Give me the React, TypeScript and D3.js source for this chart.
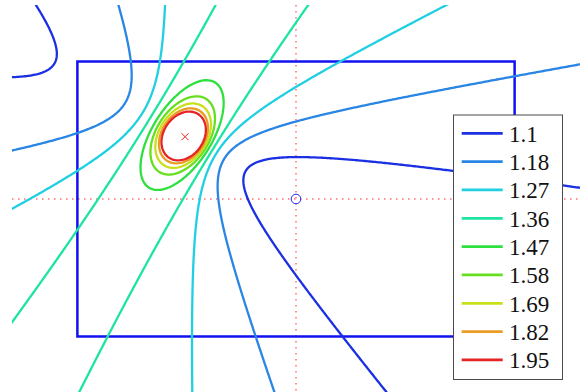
import React from 'react';
import * as d3 from 'd3';

// Contour levels of the ratio surface f = N(x, y) / D(x, y)
const LEVELS = [1.1, 1.18, 1.27, 1.36, 1.47, 1.58, 1.69, 1.82, 1.95];
const LEVEL_COLORS = ['#1b30e2', '#2a86e4', '#20cfe2', '#1ee4a2', '#2ee03e', '#66e01e', '#c8e01c', '#e89c24', '#e62424'];

// Numerator coefficients for [x^2, xy, y^2, x, y, 1]
const NUM_COEF = [1.2377, 0.08065, 1.40842, 1.94212, -1.19914, 1.06675];
// Denominator: quadratic form [xx, xy, yy] about a centre, plus a small floor
const DEN_QUAD = [1.09256, -0.1689, 1.10191];
const DEN_CENTER = [-0.80723, 0.45307];
const DEN_FLOOR = 0.0001;

// Plot window, box and reference marks (data units)
const X_DOMAIN = [-2.0655, 2.0655];
const Y_DOMAIN = [-1.411, 1.411];
const BOX_X = [-1.59, 1.59];
const BOX_Y = [-1, 1];
const ORIGIN = [0, 0];
const PEAK = [-0.807, 0.453];

const W = 582, H = 392;
const PLOT = { left: 12, right: 580, top: 5, bottom: 393 };

function surface(x: number, y: number) {
  const n = NUM_COEF[0] * x * x + NUM_COEF[1] * x * y + NUM_COEF[2] * y * y + NUM_COEF[3] * x + NUM_COEF[4] * y + NUM_COEF[5];
  const dx = x - DEN_CENTER[0], dy = y - DEN_CENTER[1];
  const d = DEN_QUAD[0] * dx * dx + DEN_QUAD[1] * dx * dy + DEN_QUAD[2] * dy * dy + DEN_FLOOR;
  return n / d;
}

export default function App() {
  const x = d3.scaleLinear().domain(X_DOMAIN).range([PLOT.left, PLOT.right]);
  const y = d3.scaleLinear().domain(Y_DOMAIN).range([PLOT.bottom, PLOT.top]);

  // sample the surface on a grid slightly larger than the plot window
  const step = 0.012;
  const gx0 = X_DOMAIN[0] - 0.06, gy1 = Y_DOMAIN[1] + 0.06;
  const nx = Math.ceil((X_DOMAIN[1] - X_DOMAIN[0] + 0.12) / step) + 1;
  const ny = Math.ceil((Y_DOMAIN[1] - Y_DOMAIN[0] + 0.12) / step) + 1;
  const values = new Array(nx * ny);
  for (let j = 0; j < ny; j++) {
    const yy = gy1 - j * step;
    for (let i = 0; i < nx; i++) values[j * nx + i] = surface(gx0 + i * step, yy);
  }
  const contours = d3.contours().size([nx, ny]).thresholds(LEVELS)(values);
  const path = d3.geoPath(
    d3.geoTransform({
      point(gx, gy) {
        (this as any).stream.point(x(gx0 + (gx - 0.5) * step), y(gy1 - (gy - 0.5) * step));
      },
    })
  );

  const px = x(PEAK[0]), py = y(PEAK[1]);
  const ox = x(ORIGIN[0]), oy = y(ORIGIN[1]);

  const legend = { x: 453.5, y: 115, w: 109, h: 264.5, row: 28.33 };

  return (
    <svg width={W} height={H} style={{ position: 'absolute', left: 0, top: 0, background: '#fff' }}>
      <defs>
        <clipPath id="plot-clip">
          <rect x={PLOT.left} y={PLOT.top} width={PLOT.right - PLOT.left} height={PLOT.bottom - PLOT.top} />
        </clipPath>
      </defs>

      {/* dotted axes through the origin */}
      <line x1={PLOT.left} x2={PLOT.right} y1={oy} y2={oy} stroke="#ff6f6f" strokeWidth={1.5} strokeDasharray="1.5 4.5" />
      <line x1={ox} x2={ox} y1={PLOT.top} y2={PLOT.bottom} stroke="#ff6f6f" strokeWidth={1.5} strokeDasharray="1.5 4.5" />

      {/* box */}
      <rect
        x={x(BOX_X[0])}
        y={y(BOX_Y[1])}
        width={x(BOX_X[1]) - x(BOX_X[0])}
        height={y(BOX_Y[0]) - y(BOX_Y[1])}
        fill="none"
        stroke="#1212f0"
        strokeWidth={2.5}
      />

      {/* contour lines */}
      <g clipPath="url(#plot-clip)">
        {contours.map((c, i) => (
          <path key={i} d={path(c as any) || ''} fill="none" stroke={LEVEL_COLORS[i]} strokeWidth={2.3} strokeLinejoin="round" />
        ))}
      </g>

      {/* origin and maximum markers */}
      <circle cx={ox} cy={oy} r={4.8} fill="none" stroke="#2424f0" strokeWidth={1} />
      <g stroke="#f02020" strokeWidth={1}>
        <line x1={px - 3.5} y1={py - 3.5} x2={px + 3.5} y2={py + 3.5} />
        <line x1={px - 3.5} y1={py + 3.5} x2={px + 3.5} y2={py - 3.5} />
      </g>

      {/* legend */}
      <g>
        <rect x={legend.x} y={legend.y} width={legend.w} height={legend.h} fill="#fff" stroke="#4a4a4a" strokeWidth={1} />
        {LEVELS.map((lv, i) => {
          const ry = legend.y + 18.3 + i * legend.row;
          return (
            <g key={lv}>
              <line x1={legend.x + 8.2} x2={legend.x + 49.2} y1={ry} y2={ry} stroke={LEVEL_COLORS[i]} strokeWidth={2.8} />
              <text x={legend.x + 55.5} y={ry + 8.3} fontFamily="'Liberation Serif', 'DejaVu Serif', serif" fontSize={23} fill="#111">
                {String(lv)}
              </text>
            </g>
          );
        })}
      </g>
    </svg>
  );
}
